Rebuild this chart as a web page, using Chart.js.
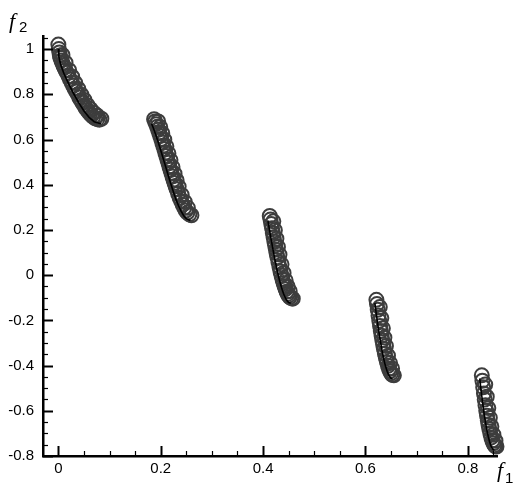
<!DOCTYPE html>
<html>
<head>
<meta charset="utf-8">
<script src="https://cdn.jsdelivr.net/npm/chart.js@4.4.0/dist/chart.umd.min.js"></script>
<style>
  html, body { margin: 0; padding: 0; background: #fff; }
  #wrap { width: 514px; height: 485px; }
</style>
</head>
<body>
<div id="wrap"><canvas id="chart" width="514" height="485"></canvas></div>
<script>
// obtained solutions (circles)
const approxF1 = [
  0.000, 0.001, 0.002, 0.003, 0.004, 0.006, 0.008, 0.010, 0.012, 0.014, 0.017, 0.020, 0.023, 0.026, 0.029, 0.032,
  0.035, 0.038, 0.041, 0.044, 0.047, 0.050, 0.053, 0.056, 0.059, 0.062, 0.065, 0.068, 0.072, 0.076, 0.080, 0.084,
  0.187, 0.189, 0.191, 0.193, 0.195, 0.197, 0.199, 0.201, 0.203, 0.205, 0.207, 0.209, 0.211, 0.213, 0.215, 0.217,
  0.219, 0.221, 0.223, 0.225, 0.227, 0.229, 0.231, 0.234, 0.237, 0.240, 0.243, 0.246, 0.249, 0.252, 0.256, 0.260,
  0.413, 0.4145, 0.416, 0.4175, 0.419, 0.4205, 0.422, 0.4235, 0.425, 0.4265, 0.428, 0.430, 0.432,
  0.434, 0.436, 0.438, 0.440, 0.442, 0.444, 0.446, 0.448, 0.450, 0.452, 0.455, 0.458,
  0.6214, 0.6225, 0.624, 0.6255, 0.627, 0.6285, 0.630, 0.6315, 0.633, 0.6345,
  0.636, 0.638, 0.640, 0.642, 0.644, 0.646, 0.648, 0.650, 0.6525, 0.6555,
  0.8273, 0.8285, 0.830, 0.8315, 0.833, 0.8345, 0.836, 0.8375, 0.839,
  0.8405, 0.842, 0.844, 0.846, 0.848, 0.850, 0.852, 0.854, 0.856
];
const approxF2 = [
  1.020, 1.000, 0.985, 0.972, 0.962, 0.950, 0.938, 0.928, 0.918, 0.906, 0.895, 0.880, 0.866, 0.852, 0.838, 0.824,
  0.812, 0.800, 0.786, 0.774, 0.763, 0.752, 0.740, 0.731, 0.722, 0.714, 0.707, 0.700, 0.694, 0.690, 0.688, 0.692,
  0.690, 0.680, 0.668, 0.656, 0.643, 0.630, 0.616, 0.602, 0.587, 0.573, 0.558, 0.542, 0.527, 0.512, 0.497, 0.481,
  0.466, 0.451, 0.437, 0.422, 0.408, 0.394, 0.380, 0.361, 0.343, 0.327, 0.312, 0.298, 0.286, 0.277, 0.269, 0.265,
  0.262, 0.246, 0.226, 0.207, 0.187, 0.168, 0.149, 0.131, 0.113, 0.096, 0.079, 0.057, 0.036,
  0.016, -0.002, -0.019, -0.035, -0.049, -0.062, -0.073, -0.083, -0.090, -0.097, -0.102, -0.104,
  -0.109, -0.128, -0.153, -0.178, -0.202, -0.225, -0.247, -0.268, -0.288, -0.307,
  -0.325, -0.348, -0.368, -0.385, -0.401, -0.414, -0.425, -0.434, -0.441, -0.443,
  -0.443, -0.467, -0.496, -0.524, -0.550, -0.575, -0.600, -0.622, -0.643,
  -0.663, -0.681, -0.700, -0.718, -0.732, -0.744, -0.752, -0.757, -0.758
];

// the outer row of circles that makes each band wider
const outerF1 = [
  0.008, 0.014, 0.021, 0.027, 0.033, 0.039, 0.045, 0.051, 0.057, 0.063, 0.069, 0.076,
  0.195, 0.199, 0.203, 0.207, 0.211, 0.215, 0.219, 0.223, 0.227, 0.231, 0.235, 0.241, 0.247, 0.253,
  0.420, 0.423, 0.426, 0.429, 0.432, 0.436, 0.440, 0.444, 0.448, 0.452,
  0.628, 0.631, 0.634, 0.637, 0.640, 0.644, 0.648, 0.652,
  0.834, 0.837, 0.840, 0.843, 0.846, 0.850, 0.854
];
const outerF2 = [
  0.974, 0.940, 0.907, 0.878, 0.850, 0.824, 0.798, 0.775, 0.752, 0.734, 0.719, 0.706,
  0.680, 0.655, 0.628, 0.599, 0.570, 0.539, 0.509, 0.478, 0.449, 0.420, 0.392, 0.355, 0.324, 0.298,
  0.238, 0.199, 0.161, 0.125, 0.091, 0.048, 0.010, -0.023, -0.050, -0.071,
  -0.141, -0.190, -0.235, -0.276, -0.313, -0.356, -0.389, -0.413,
  -0.484, -0.538, -0.588, -0.631, -0.669, -0.706, -0.732
];

// true front (black line), null breaks the segments
const frontF1 = [
  0.000, 0.001, 0.003, 0.005, 0.010, 0.015, 0.020, 0.030, 0.040, 0.050, 0.060, 0.070, 0.083, null,
  0.1822, 0.185, 0.190, 0.195, 0.200, 0.205, 0.210, 0.215, 0.220, 0.225, 0.230, 0.235, 0.240, 0.245, 0.250, 0.2578, null,
  0.4093, 0.4125, 0.415, 0.4175, 0.420, 0.4225, 0.425, 0.4275, 0.430, 0.4325, 0.435, 0.4375, 0.440, 0.4425, 0.445, 0.4475, 0.450, 0.4539, null,
  0.6184, 0.620, 0.6225, 0.625, 0.6275, 0.630, 0.6325, 0.635, 0.6375, 0.640, 0.6425, 0.645, 0.6475, 0.650, 0.6525, null,
  0.8233, 0.825, 0.8275, 0.830, 0.8325, 0.835, 0.8375, 0.840, 0.8425, 0.845, 0.8475, 0.850, 0.8518
];
const frontF2 = [
  1.000, 0.968, 0.945, 0.9285, 0.897, 0.871, 0.847, 0.8025, 0.762, 0.726, 0.698, 0.679, 0.670, null,
  0.670, 0.654, 0.623, 0.589, 0.553, 0.515, 0.477, 0.439, 0.402, 0.367, 0.334, 0.306, 0.282, 0.263, 0.250, 0.242, null,
  0.242, 0.200, 0.167, 0.136, 0.105, 0.076, 0.048, 0.021, -0.004, -0.027, -0.047, -0.066, -0.082, -0.095, -0.107, -0.115, -0.121, -0.124, null,
  -0.124, -0.152, -0.193, -0.233, -0.269, -0.303, -0.335, -0.363, -0.388, -0.409, -0.426, -0.440, -0.450, -0.456, -0.458, null,
  -0.457, -0.492, -0.539, -0.583, -0.623, -0.658, -0.689, -0.715, -0.737, -0.754, -0.766, -0.772, -0.773
];

const xMin = -0.03, xMax = 0.857;
const yMin = -0.8, yMax = 1.058;
const tickStep = 0.05;
const majorStep = 0.2;

const isMajor = (v) => Math.abs(v / majorStep - Math.round(v / majorStep)) < 1e-6;
const tickLabel = (v) => (isMajor(v) ? String(Math.round(v * 10) / 10) : "");

// inward tick marks and the f1 / f2 axis names
const axisDecor = {
  id: "axisDecor",
  afterDraw(chart) {
    const ctx = chart.ctx;
    const { left, bottom } = chart.chartArea;
    const xs = chart.scales.x;
    const ys = chart.scales.y;
    ctx.save();
    ctx.strokeStyle = "#000";
    xs.ticks.forEach((t) => {
      const px = Math.round(xs.getPixelForValue(t.value)) + 0.5;
      const major = isMajor(t.value);
      ctx.lineWidth = major ? 2 : 1.2;
      ctx.beginPath();
      ctx.moveTo(px, bottom);
      ctx.lineTo(px, bottom - (major ? 10 : 5));
      ctx.stroke();
    });
    ys.ticks.forEach((t) => {
      const py = Math.round(ys.getPixelForValue(t.value)) + 0.5;
      const major = isMajor(t.value);
      ctx.lineWidth = major ? 2 : 1.2;
      ctx.beginPath();
      ctx.moveTo(left, py);
      ctx.lineTo(left + (major ? 10 : 5), py);
      ctx.stroke();
    });

    ctx.fillStyle = "#000";
    ctx.textBaseline = "alphabetic";
    ctx.textAlign = "left";
    ctx.font = 'italic 22px "Liberation Serif"';
    ctx.fillText("f", 9, 28);
    ctx.fillText("f", 497, 477);
    ctx.font = '15px "Liberation Sans"';
    ctx.fillText("2", 19, 32);
    ctx.fillText("1", 505, 483);
    ctx.restore();
  }
};

const frontData = frontF1.map((x, i) => ({ x: x, y: frontF2[i] }));
const approxData = approxF1.map((x, i) => ({ x: x, y: approxF2[i] }))
  .concat(outerF1.map((x, i) => ({ x: x, y: outerF2[i] })));

new Chart(document.getElementById("chart"), {
  type: "scatter",
  data: {
    datasets: [
      {
        label: "front",
        data: frontData,
        showLine: true,
        spanGaps: false,
        borderColor: "#000",
        borderWidth: 1.6,
        pointRadius: 0,
        order: 0,
      },
      {
        label: "solutions",
        data: approxData,
        pointStyle: "circle",
        pointRadius: 7,
        pointBorderWidth: 2,
        pointBorderColor: "#3d3d3d",
        pointBackgroundColor: "rgba(0,0,0,0)",
        clip: false,
        order: 1,
      }
    ],
  },
  options: {
    responsive: false,
    animation: false,
    layout: { padding: { top: 36, right: 17, bottom: 0, left: 0 } },
    plugins: {
      legend: { display: false },
      tooltip: { enabled: false },
    },
    scales: {
      x: {
        type: "linear",
        min: xMin,
        max: xMax,
        afterFit: (scale) => { scale.height = 29; },
        grid: { display: false, drawTicks: false },
        border: { display: true, color: "#000", width: 2.5 },
        ticks: {
          stepSize: tickStep,
          includeBounds: false,
          autoSkip: false,
          maxRotation: 0,
          padding: 4,
          color: "#000",
          font: { family: "Liberation Sans", size: 15 },
          callback: tickLabel,
        },
      },
      y: {
        type: "linear",
        min: yMin,
        max: yMax,
        afterFit: (scale) => { scale.width = 43; },
        grid: { display: false, drawTicks: false },
        border: { display: true, color: "#000", width: 2.5 },
        ticks: {
          stepSize: tickStep,
          includeBounds: false,
          autoSkip: false,
          padding: 9,
          color: "#000",
          font: { family: "Liberation Sans", size: 15 },
          callback: tickLabel,
        },
      },
    },
  },
  plugins: [axisDecor],
});
</script>
</body>
</html>
